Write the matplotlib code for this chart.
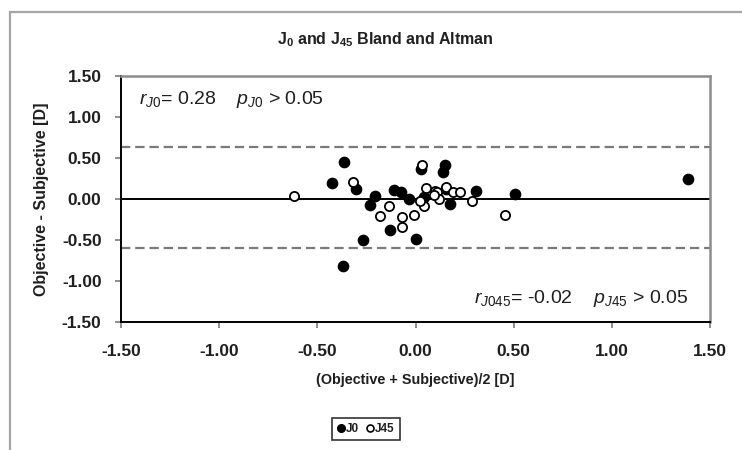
import matplotlib
matplotlib.use("Agg")
import matplotlib.pyplot as plt
from matplotlib.lines import Line2D
from matplotlib.patches import Rectangle

plt.rcParams['font.family'] = ['Liberation Sans', 'DejaVu Sans']
plt.rcParams['mathtext.fontset'] = 'custom'
plt.rcParams['mathtext.rm'] = 'Liberation Sans'
plt.rcParams['mathtext.it'] = 'Liberation Sans:italic'
plt.rcParams['mathtext.bf'] = 'Liberation Sans:bold'

# Mean of the two measurements (x) and their difference (y), in dioptres
j0_mean = [-0.425, -0.362, -0.303, -0.204, -0.232, -0.107, -0.073, -0.034,
           -0.128, -0.269, 0.002, -0.371, 0.028, 0.045, 0.148, 0.138,
           0.156, 0.174, 0.310, 0.509, 1.386]
j0_diff = [0.20, 0.45, 0.12, 0.04, -0.07, 0.11, 0.08, 0.00,
           -0.38, -0.50, -0.49, -0.82, 0.37, 0.02, 0.41, 0.33,
           0.12, -0.06, 0.10, 0.06, 0.25]

j45_mean = [-0.617, -0.320, -0.137, -0.181, -0.071, -0.068, -0.010, 0.035,
            0.052, 0.043, 0.022, 0.097, 0.112, 0.122, 0.153, 0.190,
            0.228, 0.290, 0.455, 0.095]
j45_diff = [0.04, 0.21, -0.08, -0.21, -0.22, -0.34, -0.19, 0.42,
            0.14, -0.08, -0.02, 0.10, 0.08, 0.00, 0.15, 0.09,
            0.08, -0.03, -0.20, 0.05]

upper_loa = 0.63
lower_loa = -0.60

ticks = [-1.5, -1.0, -0.5, 0.0, 0.5, 1.0, 1.5]
tick_labels = ["-1.50", "-1.00", "-0.50", "0.00", "0.50", "1.00", "1.50"]

text_col = "#1f1f1f"

fig = plt.figure(figsize=(7.42, 4.5), dpi=100)
fig.patch.set_facecolor("white")

# chart-area frame
fig.patches.append(Rectangle((10 / 742, -0.2), 1.2, 1 - 12 / 450 + 0.2,
                             transform=fig.transFigure, fill=False,
                             edgecolor="#a6a6a6", linewidth=1.6, zorder=0))

ax = fig.add_axes([121 / 742, 1 - 322 / 450, (710 - 121) / 742, (322 - 76) / 450])
ax.set_xlim(-1.5, 1.5)
ax.set_ylim(-1.5, 1.5)

ax.axhline(0, color="black", lw=1.4, zorder=1)
for v in (upper_loa, lower_loa):
    ax.axhline(v, color="#7a7a7a", lw=1.6, linestyle=(0, (4.2, 2.2)), zorder=1)

ax.plot(j0_mean, j0_diff, linestyle="none", marker="o", markersize=7.4,
        markerfacecolor="black", markeredgecolor="black", zorder=3)
ax.plot(j45_mean, j45_diff, linestyle="none", marker="o", markersize=6.6,
        markerfacecolor="white", markeredgecolor="black", markeredgewidth=1.3,
        zorder=3)

ax.set_xticks(ticks)
ax.set_xticklabels(tick_labels)
ax.set_yticks(ticks)
ax.set_yticklabels(tick_labels)
ax.tick_params(direction="out", length=4, width=1.2, color="#7a7a7a",
               labelsize=12.5, labelcolor=text_col)
ax.tick_params(axis="x", pad=12)
ax.tick_params(axis="y", pad=10)
for lab in ax.get_xticklabels() + ax.get_yticklabels():
    lab.set_fontweight("bold")

for side in ("left", "bottom"):
    ax.spines[side].set_color("black")
    ax.spines[side].set_linewidth(1.4)
for side in ("top", "right"):
    ax.spines[side].set_color("#8c8c8c")
    ax.spines[side].set_linewidth(1.8)

ax.set_xlabel("(Objective + Subjective)/2 [D]", fontsize=10.4, fontweight="bold",
              color=text_col, labelpad=10)
ax.set_ylabel("Objective - Subjective [D]", fontsize=11.5, fontweight="bold",
              color=text_col, labelpad=9)

fig.text(385 / 742, 1 - 40 / 450,
         r"J$_\mathbf{0}$ and J$_\mathbf{45}$ Bland and Altman",
         ha="center", va="center", fontsize=11.5, fontweight="bold",
         color=text_col)

ax.text(-1.41, 1.21, r"$r_{J0}$= 0.28    $p_{J0}$ > 0.05", fontsize=14,
        ha="left", va="center", color=text_col)
ax.text(0.30, -1.21, r"$r_{J045}$= -0.02    $p_{J45}$ > 0.05", fontsize=14,
        ha="left", va="center", color=text_col)

handles = [
    Line2D([], [], linestyle="none", marker="o", markersize=5.5,
           markerfacecolor="black", markeredgecolor="black"),
    Line2D([], [], linestyle="none", marker="o", markersize=5.0,
           markerfacecolor="white", markeredgecolor="black",
           markeredgewidth=1.2),
]
leg = fig.legend(handles, ["J0", "J45"], loc="center",
                 bbox_to_anchor=(366 / 742, 1 - 429 / 450), ncol=2,
                 fontsize=8.5, frameon=True, fancybox=False,
                 handlelength=0.6, handletextpad=0.15, columnspacing=0.6,
                 borderpad=0.45, borderaxespad=0)
leg.get_frame().set_edgecolor("black")
leg.get_frame().set_linewidth(1.2)
for t in leg.get_texts():
    t.set_fontweight("bold")
    t.set_color(text_col)

fig.savefig("out.png", dpi=100, facecolor="white")
